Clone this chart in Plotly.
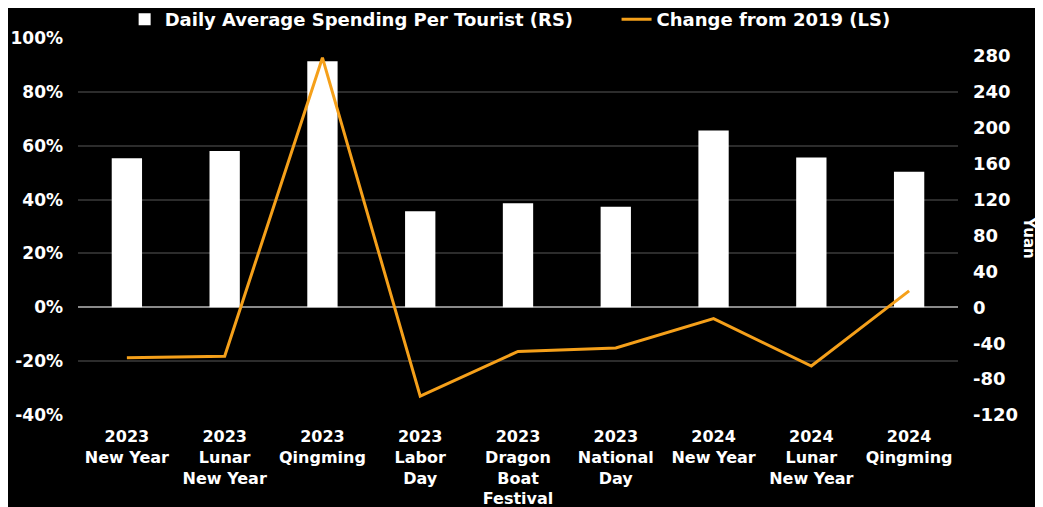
import plotly.graph_objects as go

categories = ["2023<br>New Year", "2023<br>Lunar<br>New Year", "2023<br>Qingming",
              "2023<br>Labor<br>Day", "2023<br>Dragon<br>Boat<br>Festival", "2023<br>National<br>Day",
              "2024<br>New Year", "2024<br>Lunar<br>New Year", "2024<br>Qingming"]
spending_yuan = [166, 174, 274, 107, 116, 112, 197, 167, 151]
change_from_2019 = [-0.187, -0.182, 0.927, -0.330, -0.164, -0.151, -0.042, -0.218, 0.061]

left_ticks = [-0.4, -0.2, 0, 0.2, 0.4, 0.6, 0.8, 1.0]
left_ticktext = ["-40%", "-20%", "0%", "20%", "40%", "60%", "80%", "100%"]
right_ticks = [-120, -80, -40, 0, 40, 80, 120, 160, 200, 240, 280]
right_ticktext = ["-120", "-80", "-40", "0", "40", "80", "120", "160", "200", "240", "280"]

FONT = "DejaVu Sans"
ORANGE = "#F5A01A"
LEGEND_FONT = dict(size=18, family=FONT, color="white", weight="bold")

fig = go.Figure()
fig.add_trace(go.Bar(
    x=categories, y=spending_yuan, name="Daily Average Spending Per Tourist (RS)",
    marker=dict(color="white", line=dict(width=0)), yaxis="y", width=0.31, legend="legend",
))
fig.add_trace(go.Scatter(
    x=categories, y=change_from_2019, name="Change from 2019 (LS)",
    mode="lines", line=dict(color=ORANGE, width=3), yaxis="y2", legend="legend2",
))

fig.update_layout(
    width=1043, height=507,
    paper_bgcolor="black", plot_bgcolor="black",
    margin=dict(l=70, r=93, t=30, b=100, autoexpand=False),
    font=dict(family=FONT, color="white", size=16),
    showlegend=True,
    legend=dict(orientation="h", x=0.053, xanchor="left", y=1.0, yanchor="bottom",
                bgcolor="rgba(0,0,0,0)", font=LEGEND_FONT, itemwidth=30),
    legend2=dict(orientation="h", x=0.612, xanchor="left", y=1.0, yanchor="bottom",
                 bgcolor="rgba(0,0,0,0)", font=LEGEND_FONT, itemwidth=30),
    xaxis=dict(showgrid=False, showline=False, zeroline=False, ticks="", automargin=False,
               ticklabelstandoff=10,
               tickfont=dict(size=16, family=FONT, color="white", weight="bold"),
               tickangle=0),
    yaxis=dict(side="right", range=[-120, 300], tickvals=right_ticks, ticktext=right_ticktext,
               showgrid=False, zeroline=False, showline=False, ticks="", automargin=False,
               ticklabelstandoff=14,
               tickfont=dict(size=18, family=FONT, color="white", weight="bold")),
    yaxis2=dict(side="left", overlaying="y", range=[-0.4, 1.0], tickvals=left_ticks, ticktext=left_ticktext,
                showgrid=True, gridcolor="#2c2c2c", gridwidth=1.5,
                zeroline=True, zerolinecolor="#8a8a8a", zerolinewidth=1.5, automargin=False,
                showline=False, ticks="", ticklabelstandoff=14,
                tickfont=dict(size=17, family=FONT, color="white", weight="bold")),
    annotations=[dict(text="Yuan", textangle=90, x=1.081, xref="paper", y=0.47, yref="paper",
                      xanchor="center", yanchor="middle", showarrow=False,
                      font=dict(size=15, family=FONT, color="white", weight="bold"))],
)

fig.write_html("out.html")
